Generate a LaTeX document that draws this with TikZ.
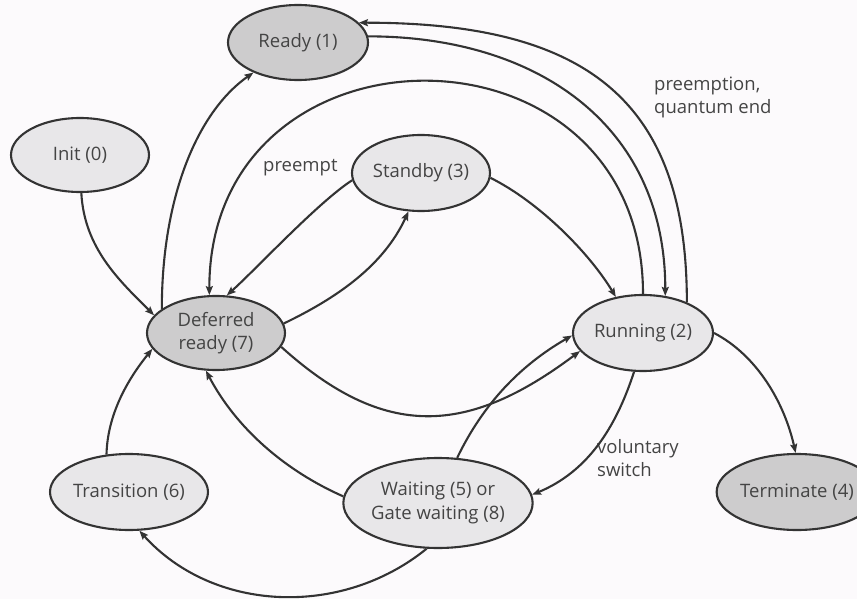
\documentclass[tikz,border=0pt]{standalone}
\usepackage{fontspec}
\setmainfont{Open Sans}
\usetikzlibrary{arrows.meta,shapes.geometric}
\definecolor{bgc}{HTML}{FCFAFC}
\definecolor{lightst}{HTML}{E8E7E9}
\definecolor{darkst}{HTML}{CDCCCD}
\definecolor{linec}{HTML}{333333}
\definecolor{txtc}{HTML}{444444}
\tikzset{
  st/.style={ellipse, draw=linec, line width=2.1pt, inner sep=0pt, text=txtc,
    font=\fontsize{18.5}{23.5}\selectfont, align=center},
  lst/.style={st, fill=lightst},
  dst/.style={st, fill=darkst},
  tr/.style={draw=linec, line width=2.1pt, -{Stealth[length=9pt,width=7pt,inset=1.5pt]}},
  lbl/.style={text=txtc, font=\fontsize{18.5}{23}\selectfont, align=left, inner sep=0pt}
}
\begin{document}
\begin{tikzpicture}[x=1pt,y=1pt]
\clip (0,0) rectangle (857,-599);
\fill[bgc] (0,0) rectangle (857,-599);
% states
\node[dst, minimum width=140pt, minimum height=75pt] (ready) at (298,-42.5) {Ready (1)};
\node[lst, minimum width=138pt, minimum height=74pt] (init) at (80,-155) {Init (0)};
\node[lst, minimum width=138pt, minimum height=76pt] (standby) at (421,-173) {Standby (3)};
\node[dst, minimum width=138pt, minimum height=74pt] (deferred) at (216,-333) {Deferred\\ready (7)};
\node[lst, minimum width=140pt, minimum height=76pt] (running) at (643,-333) {Running (2)};
\node[lst, minimum width=138pt, minimum height=76pt] (transition) at (129,-492) {Transition (6)};
\node[lst, minimum width=162pt, minimum height=90pt] (waiting) at (438,-503) {Waiting (5) or\\Gate waiting (8)};
\node[dst, minimum width=138pt, minimum height=76pt] (terminate) at (797,-492) {Terminate (4)};
% labels
\node[lbl, anchor=west] (lpre) at (263,-168) {preempt};
\node[lbl, anchor=west] (lpq) at (654,-97) {preemption,\\quantum end};
\node[lbl, anchor=west] (lvs) at (597,-458) {voluntary\\switch};
% transitions
\draw[tr] (init.-88) .. controls +(3,-55) and +(-35,35) .. (deferred.164);
\draw[tr] (deferred.156) .. controls +(0,110) and +(-57,-40) .. (ready.214);
\draw[tr] (ready.5) .. controls +(170,0) and +(0,170) .. (running.59);
\draw[tr] (running.35) .. controls +(0,200) and +(230,0) .. (ready.18);
\draw[tr] (running.90) .. controls +(0,284) and +(0,284) .. (deferred.100);
\draw[tr] (standby.186) .. controls +(-34,-22) and +(30,27) .. (deferred.74);
\draw[tr] (deferred.8) .. controls +(54,26) and +(-25,-54) .. (standby.252);
\draw[tr] (standby.-4) .. controls +(50,-25) and +(-26,43) .. (running.127);
\draw[tr] (deferred.-12) .. controls +(104,-94) and +(-112,-84) .. (running.196);
\draw[tr] (waiting.67) .. controls +(26,54) and +(-52,-30) .. (running.182);
\draw[tr] (running.257) .. controls +(-18.5,-57) and +(55,23) .. (waiting.5);
\draw[tr] (running.0) .. controls +(44,-23) and +(-11,49) .. (terminate.92);
\draw[tr] (waiting.176) .. controls +(-59,26) and +(30,-57) .. (deferred.255);
\draw[tr] (transition.121) .. controls +(1,40) and +(-25,-31) .. (deferred.194);
\draw[tr] (waiting.256) .. controls +(-85,-69) and +(74,-82) .. (transition.285);
\end{tikzpicture}
\end{document}
